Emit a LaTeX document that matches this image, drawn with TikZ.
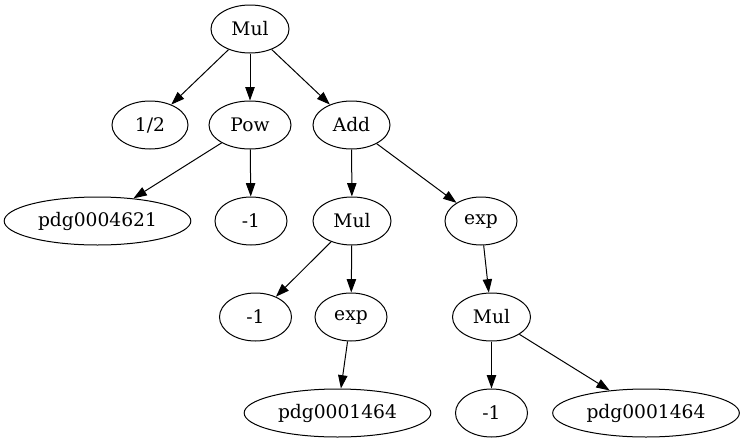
\documentclass[tikz,border=0pt]{standalone}
\usepackage{fontspec}
\setmainfont{DejaVu Serif}
\usetikzlibrary{arrows.meta, shapes.geometric}

\begin{document}
\begin{tikzpicture}[x=0.75pt, y=-0.75pt,
  every node/.style={ellipse, draw, line width=0.75pt, inner sep=0pt, minimum height=36pt, font=\fontsize{14}{16}\selectfont},
  leaf/.style={minimum width=54pt},
  op/.style={minimum width=58.5pt},
  sym/.style={minimum width=140pt},
  link/.style={-{Triangle[length=10pt, width=7pt]}, line width=0.75pt}]
\useasboundingbox (0,0) rectangle (743,443);
% top level
\node[op] (mulA) at (250,29) {Mul};
\node[op, minimum width=57pt] (half) at (150,125) {1/2};
\node[op, minimum width=61.5pt] (pow) at (250,125) {Pow};
\node[op, minimum width=57.75pt] (add) at (351.5,125) {Add};
% third row
\node[sym] (pdgA) at (97.5,221) {pdg0004621};
\node[leaf] (negA) at (251,221) {-1};
\node[op] (mulB) at (352,221) {Mul};
\node[leaf] (expA) at (481,221) {exp};
% fourth row
\node[leaf] (negB) at (255.5,317) {-1};
\node[leaf] (expB) at (351,317) {exp};
\node[op] (mulC) at (491.5,317) {Mul};
% bottom
\node[sym] (pdgB) at (337.5,413) {pdg0001464};
\node[leaf] (negC) at (491.5,413) {-1};
\node[sym] (pdgC) at (646,413) {pdg0001464};

\draw[link] (mulA) -- (half);
\draw[link] (mulA) -- (pow);
\draw[link] (mulA) -- (add);
\draw[link] (pow) -- (pdgA);
\draw[link] (pow) -- (negA);
\draw[link] (add) -- (mulB);
\draw[link] (add) -- (expA);
\draw[link] (mulB) -- (negB);
\draw[link] (mulB) -- (expB);
\draw[link] (expA) -- (mulC);
\draw[link] (expB) -- (pdgB);
\draw[link] (mulC) -- (negC);
\draw[link] (mulC) -- (pdgC);
\end{tikzpicture}
\end{document}
